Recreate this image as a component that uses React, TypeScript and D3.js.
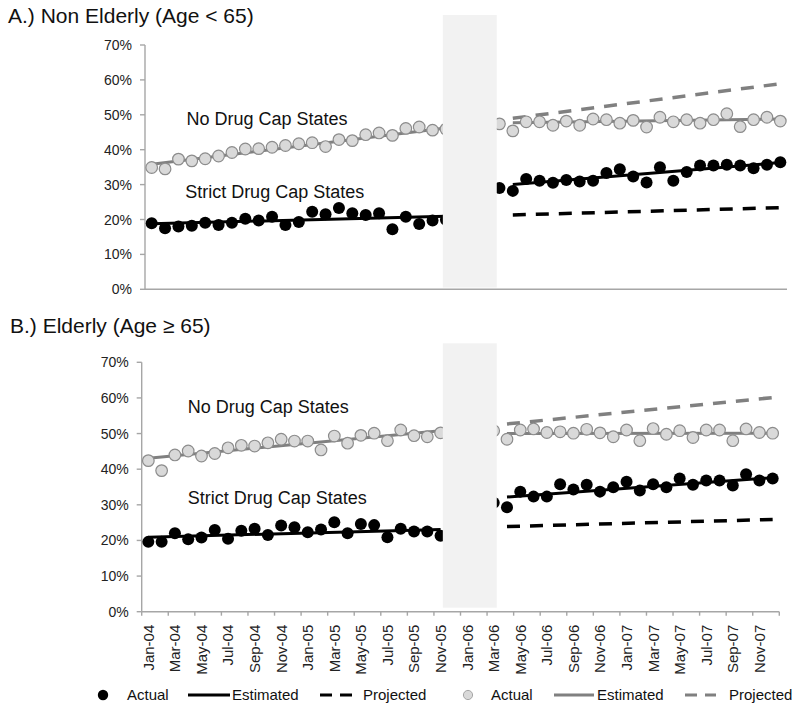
import React from "react";
import * as d3 from "d3";

// ---------- DATA ----------
const months = [
  "Jan-04","Feb-04","Mar-04","Apr-04","May-04","Jun-04","Jul-04","Aug-04","Sep-04","Oct-04","Nov-04","Dec-04",
  "Jan-05","Feb-05","Mar-05","Apr-05","May-05","Jun-05","Jul-05","Aug-05","Sep-05","Oct-05","Nov-05","Dec-05",
  "Jan-06","Feb-06","Mar-06","Apr-06","May-06","Jun-06","Jul-06","Aug-06","Sep-06","Oct-06","Nov-06","Dec-06",
  "Jan-07","Feb-07","Mar-07","Apr-07","May-07","Jun-07","Jul-07","Aug-07","Sep-07","Oct-07","Nov-07","Dec-07",
];
const yTicks = [0, 10, 20, 30, 40, 50, 60, 70];

// pre period: Jan-04 .. Nov-05 (index 0..22); post period: Mar-06 .. Dec-07 (index 26..47)
const preStart = 0;
const postStart = 26;
const lineStart = { pre: 0, post: 27 };
const lineEnd = { pre: 22, post: 47 };

// A.) Non elderly
const nonElderlyStrictPre = [18.9,17.5,18.0,18.2,19.1,18.4,19.1,20.2,19.7,20.8,18.4,19.3,22.2,21.5,23.3,21.8,21.3,21.8,17.2,20.8,18.7,19.7,19.9];
const nonElderlyStrictPost = [29.0,28.2,31.6,31.1,30.5,31.3,30.9,31.1,33.3,34.4,32.3,30.6,35.0,31.1,33.6,35.5,35.5,35.7,35.5,34.7,35.7,36.4];
const nonElderlyNoCapPre = [34.9,34.5,37.3,36.8,37.4,38.2,39.2,40.2,40.3,40.7,41.2,41.7,42.0,40.9,42.9,42.6,44.3,44.8,44.1,46.1,46.5,45.6,45.9];
const nonElderlyNoCapPost = [47.4,45.4,48.0,48.0,47.0,48.2,47.0,48.8,48.6,47.6,48.4,46.5,49.3,48.0,48.6,47.6,48.6,50.3,46.6,48.6,49.3,48.2];
// trend lines [start, end]
const nonElderlyStrictEstPre = [18.8, 20.9];
const nonElderlyStrictEstPost = [30.0, 36.3];
const nonElderlyStrictProj = [21.3, 23.4];
const nonElderlyNoCapEstPre = [35.8, 46.2];
const nonElderlyNoCapEstPost = [47.7, 48.8];
const nonElderlyNoCapProj = [49.0, 58.9];

// B.) Elderly
const elderlyStrictPre = [19.6,19.6,22.0,20.3,20.8,22.9,20.5,22.7,23.3,21.5,24.2,23.7,22.3,23.1,25.1,22.0,24.6,24.3,20.9,23.3,22.5,22.5,21.3];
const elderlyStrictPost = [30.6,29.3,33.7,32.3,32.3,35.8,34.3,35.6,33.7,34.9,36.5,34.0,35.8,34.9,37.4,35.6,36.8,36.8,35.4,38.6,36.8,37.4];
const elderlyNoCapPre = [42.4,39.6,44.0,45.1,43.7,44.4,46.0,46.7,46.5,47.4,48.4,47.9,47.9,45.4,49.3,47.3,49.5,50.1,48.0,51.0,49.4,49.1,50.2];
const elderlyNoCapPost = [50.8,48.4,51.0,51.3,50.3,50.5,50.1,51.2,50.2,49.1,51.0,48.0,51.4,49.8,50.8,48.9,51.0,51.0,48.0,51.3,50.3,50.1];
const elderlyStrictEstPre = [20.9, 23.1];
const elderlyStrictEstPost = [32.2, 37.6];
const elderlyStrictProj = [23.9, 25.9];
const elderlyNoCapEstPre = [43.1, 50.8];
const elderlyNoCapEstPost = [50.0, 50.1];
const elderlyNoCapProj = [52.7, 60.1];

const legendLabels = ["Actual", "Estimated", "Projected", "Actual", "Estimated", "Projected"];

// ---------- STYLE / LAYOUT ----------
const FONT = "'Liberation Sans', Arial, Helvetica, sans-serif";
const AXIS = "#a6a6a6";
const BLACK = "#000000";
const GRAYLINE = "#808080";
const GRAYFILL = "#d9d9d9";
const GRAYSTROKE = "#8c8c8c";
const SHADE = "#f2f2f2";

const panels = [
  {
    title: "A.) Non Elderly (Age < 65)",
    titleX: 8, titleY: 23,
    x0: 145, x1: 787, yTop: 45, yBottom: 289.3,
    shade: [22.27, 26.3], shadeTop: 15, shadeBottom: 287.5,
    xTicks: false,
    strictPre: nonElderlyStrictPre, strictPost: nonElderlyStrictPost,
    noCapPre: nonElderlyNoCapPre, noCapPost: nonElderlyNoCapPost,
    strictEstPre: nonElderlyStrictEstPre, strictEstPost: nonElderlyStrictEstPost, strictProj: nonElderlyStrictProj,
    noCapEstPre: nonElderlyNoCapEstPre, noCapEstPost: nonElderlyNoCapEstPost, noCapProj: nonElderlyNoCapProj,
    noCapLabel: { i: 3.1, v: 47.1 }, strictLabel: { i: 3.0, v: 26.1 },
  },
  {
    title: "B.) Elderly (Age \u2265 65)",
    titleX: 10, titleY: 333,
    x0: 141.7, x1: 779.3, yTop: 362.3, yBottom: 611.7,
    shade: [22.67, 26.73], shadeTop: 343.3, shadeBottom: 607.7,
    xTicks: true,
    strictPre: elderlyStrictPre, strictPost: elderlyStrictPost,
    noCapPre: elderlyNoCapPre, noCapPost: elderlyNoCapPost,
    strictEstPre: elderlyStrictEstPre, strictEstPost: elderlyStrictEstPost, strictProj: elderlyStrictProj,
    noCapEstPre: elderlyNoCapEstPre, noCapEstPost: elderlyNoCapEstPost, noCapProj: elderlyNoCapProj,
    noCapLabel: { i: 3.46, v: 55.9 }, strictLabel: { i: 3.46, v: 30.2 },
  },
];

function Panel({ p }: { p: any }) {
  const x = d3.scaleLinear().domain([0, months.length]).range([p.x0, p.x1]);
  const y = d3.scaleLinear().domain([0, 70]).range([p.yBottom, p.yTop]);
  const cx = (i: number) => x(i + 0.5);
  const line = d3.line<[number, number]>().x((d) => cx(d[0])).y((d) => y(d[1]));
  const seg = (v: number[], period: "pre" | "post") =>
    line([[lineStart[period], v[0]], [lineEnd[period], v[1]]]) as string;

  const pts = (vals: number[], start: number) => vals.map((v, k) => ({ i: start + k, v }));
  const strictPts = [...pts(p.strictPre, preStart), ...pts(p.strictPost, postStart)];
  const noCapPts = [...pts(p.noCapPre, preStart), ...pts(p.noCapPost, postStart)];

  const tickIdx = d3.range(0, months.length + 1, 2);
  const labelIdx = d3.range(0, months.length, 2);

  return (
    <g>
      <text x={p.titleX} y={p.titleY} fontSize={21} fontFamily={FONT} fill="#111">{p.title}</text>
      {/* y axis */}
      <line x1={p.x0} x2={p.x0} y1={y(70)} y2={y(0)} stroke={AXIS} strokeWidth={1.4} />
      {yTicks.map((t) => (
        <g key={t}>
          <line x1={p.x0 - 5} x2={p.x0} y1={y(t)} y2={y(t)} stroke={AXIS} strokeWidth={1.4} />
          <text x={p.x0 - 13} y={y(t)} dy="0.36em" textAnchor="end" fontSize={14} fontFamily={FONT} fill="#222">{t}%</text>
        </g>
      ))}
      {/* x axis */}
      <line x1={p.x0} x2={p.x1} y1={y(0)} y2={y(0)} stroke={AXIS} strokeWidth={1.4} />
      {p.xTicks && tickIdx.map((i) => (
        <line key={i} x1={x(i)} x2={x(i)} y1={y(0)} y2={y(0) + 4} stroke={AXIS} strokeWidth={1.4} />
      ))}
      {p.xTicks && labelIdx.map((i) => (
        <text key={i} transform={`translate(${cx(i)},${y(0) + 13}) rotate(-90)`} dy="0.36em" textAnchor="end"
          fontSize={15} fontFamily={FONT} fill="#222">{months[i]}</text>
      ))}
      {/* trend lines */}
      <path d={seg(p.noCapEstPre, "pre")} stroke={GRAYLINE} strokeWidth={3} fill="none" />
      <path d={seg(p.noCapEstPost, "post")} stroke={GRAYLINE} strokeWidth={3} fill="none" />
      <path d={seg(p.noCapProj, "post")} stroke={GRAYLINE} strokeWidth={3.5} strokeDasharray="13,10" fill="none" />
      <path d={seg(p.strictEstPre, "pre")} stroke={BLACK} strokeWidth={3} fill="none" />
      <path d={seg(p.strictEstPost, "post")} stroke={BLACK} strokeWidth={3} fill="none" />
      <path d={seg(p.strictProj, "post")} stroke={BLACK} strokeWidth={3.5} strokeDasharray="13,10" fill="none" />
      {/* points */}
      {noCapPts.map((d) => (
        <circle key={"n" + d.i} cx={cx(d.i)} cy={y(d.v)} r={5.8} fill={GRAYFILL} stroke={GRAYSTROKE} strokeWidth={1.2} />
      ))}
      {strictPts.map((d) => (
        <circle key={"s" + d.i} cx={cx(d.i)} cy={y(d.v)} r={6} fill={BLACK} />
      ))}
      {/* shaded transition period */}
      <rect x={x(p.shade[0])} width={x(p.shade[1]) - x(p.shade[0])} y={p.shadeTop} height={p.shadeBottom - p.shadeTop} fill={SHADE} />
      {/* annotations */}
      <text x={x(p.noCapLabel.i)} y={y(p.noCapLabel.v)} fontSize={18} fontFamily={FONT} fill="#111">No Drug Cap States</text>
      <text x={x(p.strictLabel.i)} y={y(p.strictLabel.v)} fontSize={18} fontFamily={FONT} fill="#111">Strict Drug Cap States</text>
    </g>
  );
}

function Legend() {
  const ly = 695;
  const items = [
    { kind: "dot", color: BLACK, fill: BLACK, stroke: "none", r: 5.2, mx: 103, tx: 127 },
    { kind: "line", color: BLACK, mx: 188, mx2: 230, tx: 232 },
    { kind: "dash", color: BLACK, mx: 320, mx2: 352, tx: 363 },
    { kind: "dot", color: GRAYLINE, fill: GRAYFILL, stroke: "#a6a6a6", r: 4.6, mx: 468, tx: 491 },
    { kind: "line", color: GRAYLINE, mx: 554, mx2: 594, tx: 597 },
    { kind: "dash", color: GRAYLINE, mx: 685, mx2: 716, tx: 729 },
  ];
  return (
    <g>
      {items.map((it: any, k) => (
        <g key={k}>
          {it.kind === "dot" && <circle cx={it.mx} cy={ly} r={it.r} fill={it.fill} stroke={it.stroke} strokeWidth={1} />}
          {it.kind === "line" && <line x1={it.mx} x2={it.mx2} y1={ly} y2={ly} stroke={it.color} strokeWidth={3} />}
          {it.kind === "dash" && <line x1={it.mx} x2={it.mx2} y1={ly} y2={ly} stroke={it.color} strokeWidth={3} strokeDasharray="12,8" />}
          <text x={it.tx} y={ly} dy="0.36em" fontSize={15} fontFamily={FONT} fill="#111">{legendLabels[k]}</text>
        </g>
      ))}
    </g>
  );
}

export default function App() {
  return (
    <div style={{ position: "absolute", left: 0, top: 0 }}>
      <svg width={800} height={712} viewBox="0 0 800 712" style={{ display: "block", background: "#fff" }}>
        <rect x={0} y={0} width={800} height={712} fill="#fff" />
        {panels.map((p, k) => <Panel key={k} p={p} />)}
        <Legend />
      </svg>
    </div>
  );
}
